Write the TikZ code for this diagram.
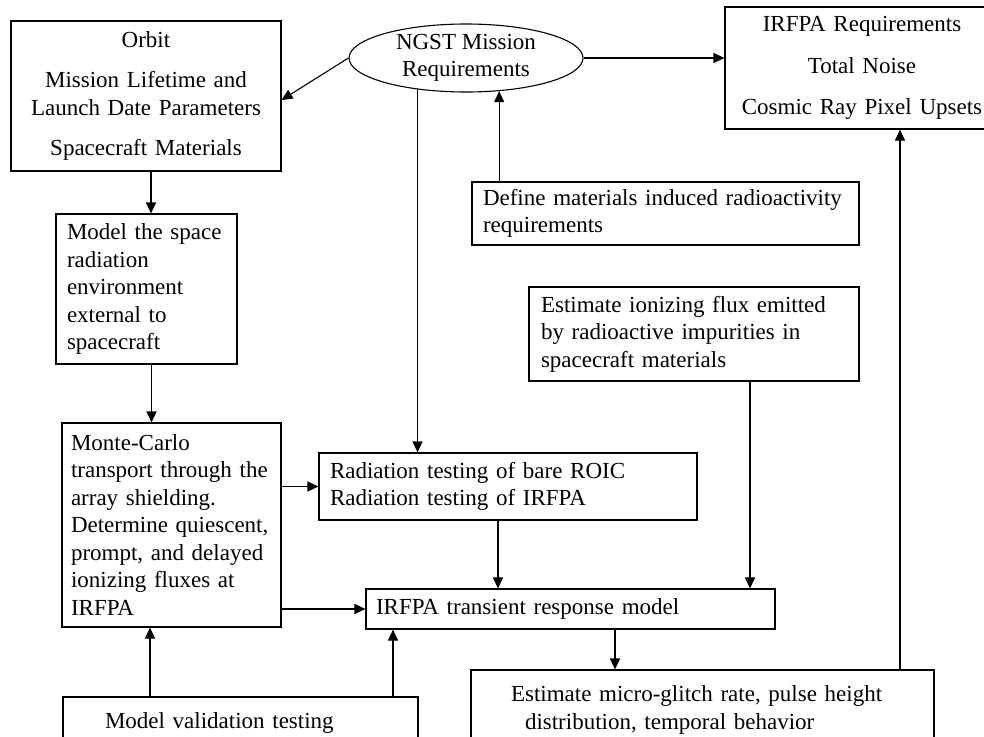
\documentclass[tikz,border=0pt]{standalone}
\usepackage{fontspec}
\setmainfont{Liberation Serif}
\usetikzlibrary{arrows.meta,positioning,calc,shapes.geometric}
\newcommand{\boxfont}{\fontsize{23}{27.5}\selectfont}

\begin{document}
\begin{tikzpicture}[x=1pt,y=-1pt,
    blk/.style={draw,line width=1.1pt,inner xsep=11pt,inner ysep=0pt,align=left,font=\boxfont},
    cblk/.style={blk,align=center},
    arr/.style={line width=1.1pt,-{Triangle[length=11pt,width=10pt]}}]
  \useasboundingbox (0,0) rectangle (984,736);
  \clip (0,0) rectangle (984,736);

  % requirements row
  \node[cblk,text width=248pt,minimum height=150pt] (orbit) at (146,96) {Orbit\\[13pt]Mission Lifetime and\\Launch Date Parameters\\[13pt]Spacecraft Materials};
  \node[draw,ellipse,line width=1.1pt,minimum width=234pt,minimum height=68pt,inner sep=0pt,align=center,font=\boxfont] (ngst) at (466,58) {NGST Mission\\Requirements};
  \node[cblk,text width=252pt,minimum height=122pt] (irfreq) at (862,68) {IRFPA Requirements\\[14pt]Total Noise\\[14pt]Cosmic Ray Pixel Upsets};
  \node[blk,text width=365pt,minimum height=63pt] (define) at (665.5,213.5) {Define materials induced radioactivity\\requirements};

  % environment and flux
  \node[blk,text width=159pt,minimum height=150pt] (model) at (146.5,289) {Model the space\\radiation\\environment\\external to\\spacecraft};
  \node[blk,inner xsep=12pt,text width=306pt,minimum height=94pt] (flux) at (694,334) {Estimate ionizing flux emitted\\by radioactive impurities in\\spacecraft materials};
  \node[blk,inner xsep=9pt,text width=201pt,minimum height=204pt] (monte) at (171.5,525) {Monte-Carlo\\transport through the\\array shielding.\\Determine quiescent,\\prompt, and delayed\\ionizing fluxes at\\IRFPA};
  \node[blk,text width=356pt,minimum height=67pt] (radtest) at (508,486.5) {Radiation testing of bare ROIC\\Radiation testing of IRFPA};
  \node[blk,inner xsep=10pt,text width=389pt,minimum height=40pt] (transient) at (570.5,609) {IRFPA transient response model};

  % bottom row (cut by the page)
  \node[blk,inner xsep=40pt,text width=383pt,minimum height=80pt] (glitch) at (702.5,710) {Estimate micro-glitch rate, pulse height\\\hspace*{14pt}distribution, temporal behavior};
  \node[blk,inner xsep=42pt,text width=271pt,minimum height=52pt] (valid) at (240.5,723) {Model validation testing};

  % connectors
  \draw[arr] (ngst.west) -- ([yshift=-4pt]orbit.east);
  \draw[arr] (ngst.east) -- (ngst.east -| irfreq.west);
  \draw[arr] ([xshift=5pt]orbit.south) -- ([xshift=5pt]orbit.south |- model.north);
  \draw[arr] ([xshift=5pt]model.south) -- ([xshift=5pt]model.south |- monte.north);
  \draw[arr] (ngst.213) -- (ngst.213 |- radtest.north);
  \draw[arr] (define.north -| ngst.315) -- (ngst.315);
  \draw[arr] (monte.east |- radtest.west) -- (radtest.west);
  \draw[arr] (monte.east |- transient.west) -- (transient.west);
  \draw[arr] ([xshift=-10pt]radtest.south) -- ([xshift=-10pt]radtest.south |- transient.north);
  \draw[arr] ([xshift=56pt]flux.south) -- ([xshift=56pt]flux.south |- transient.north);
  \draw[arr] ([xshift=44.5pt]transient.south) -- ([xshift=44.5pt]transient.south |- glitch.north);
  \draw[arr] ([xshift=197.5pt]glitch.north) -- ([xshift=197.5pt]glitch.north |- irfreq.south);
  \draw[arr] ([xshift=-90.5pt]valid.north) -- ([xshift=-90.5pt]valid.north |- monte.south);
  \draw[arr] ([xshift=152.5pt]valid.north) -- ([xshift=152.5pt]valid.north |- transient.south);
\end{tikzpicture}
\end{document}
